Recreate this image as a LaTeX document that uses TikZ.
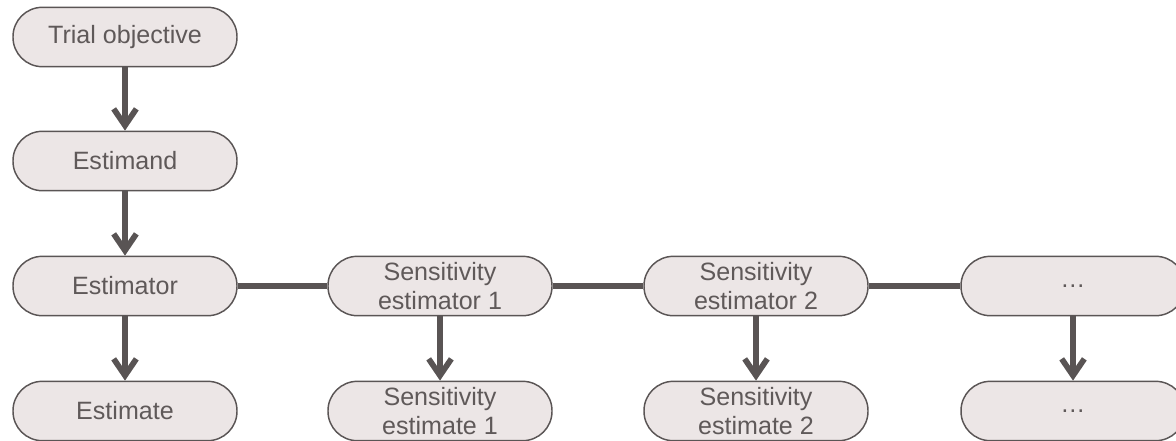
\documentclass[tikz,border=0pt]{standalone}
\usepackage{fontspec}
\setmainfont{Liberation Sans}
\usetikzlibrary{arrows.meta}
\definecolor{boxfill}{RGB}{236,230,230}
\definecolor{boxline}{RGB}{90,85,85}
\definecolor{linkgray}{RGB}{89,84,84}
\definecolor{textgray}{RGB}{95,89,89}

\begin{document}
\begin{tikzpicture}[x=0.75pt,y=-0.75pt,
    box/.style={draw=boxline, line width=1.1pt, fill=boxfill, rounded corners=22pt,
        minimum width=168pt, minimum height=44.5pt, inner sep=0pt, align=center,
        text=textgray, font=\fontsize{18.8}{21.5}\selectfont},
    arr/.style={linkgray, line width=4.3pt, -{Straight Barb[length=12.5pt,width=17pt]}},
    link/.style={linkgray, line width=4.5pt}]
    \useasboundingbox (0,0) rectangle (1176,440);
    % main column
    \node[box] (obj) at (125,37) {Trial objective};
    \node[box] (estimand) at (125,161) {Estimand};
    \node[box] (estimator) at (125,286) {Estimator};
    \node[box] (estimate) at (125,411) {Estimate};
    % sensitivity branches
    \node[box] (sens1) at (440,286) {Sensitivity\\estimator 1};
    \node[box] (sest1) at (440,411) {Sensitivity\\estimate 1};
    \node[box] (sens2) at (756,286) {Sensitivity\\estimator 2};
    \node[box] (sest2) at (756,411) {Sensitivity\\estimate 2};
    \node[box] (more) at (1073,286) {\dots};
    \node[box] (moreest) at (1073,411) {\dots};
    \draw[arr] (obj) -- (estimand);
    \draw[arr] (estimand) -- (estimator);
    \draw[arr] (estimator) -- (estimate);
    \draw[arr] (sens1) -- (sest1);
    \draw[arr] (sens2) -- (sest2);
    \draw[arr] (more) -- (moreest);
    \draw[link] (estimator) -- (sens1);
    \draw[link] (sens1) -- (sens2);
    \draw[link] (sens2) -- (more);
\end{tikzpicture}
\end{document}
